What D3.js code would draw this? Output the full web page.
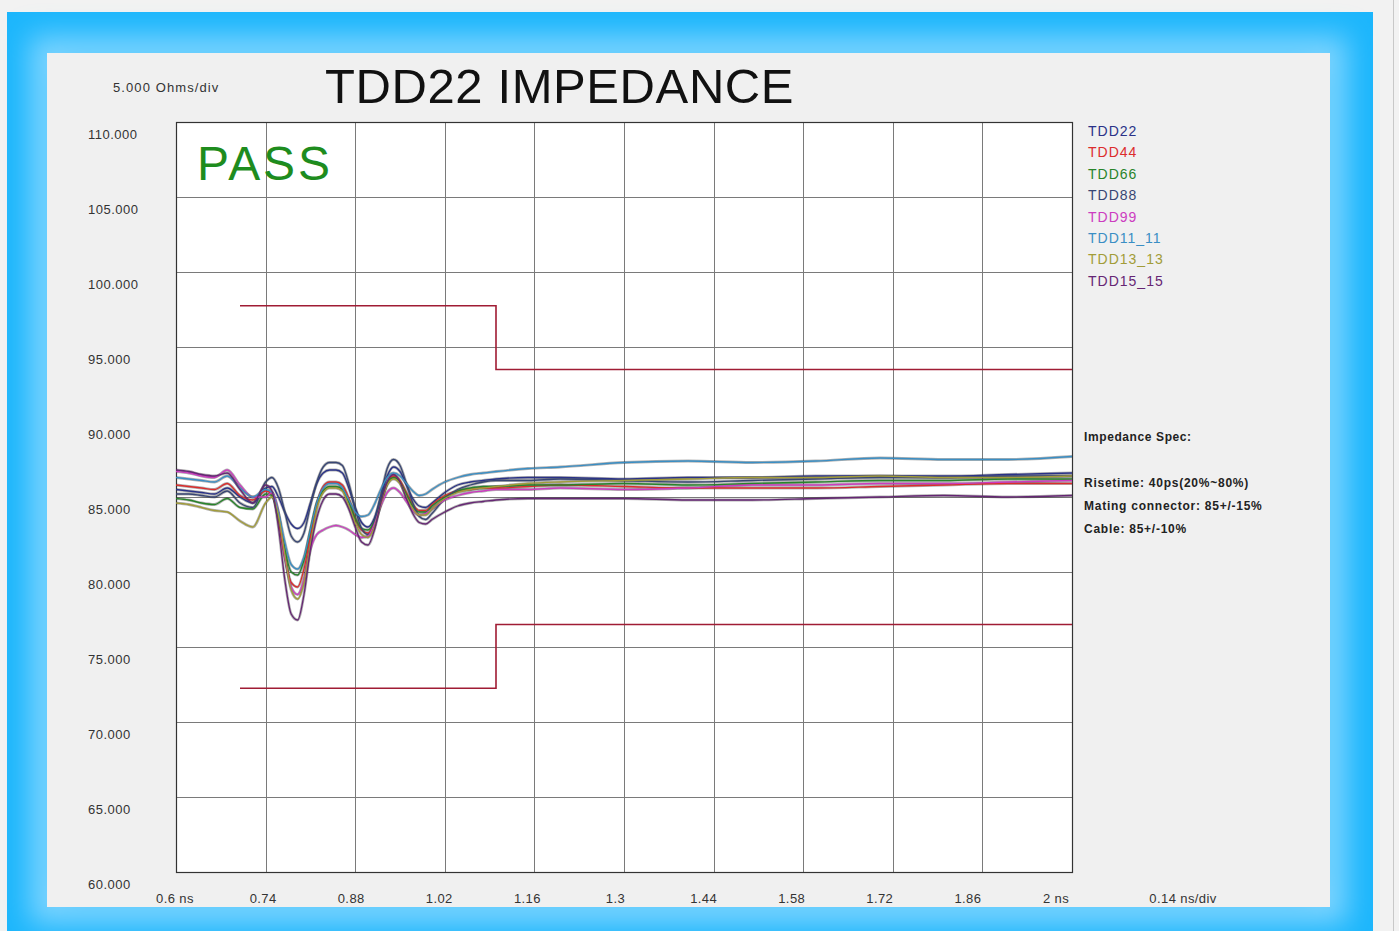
<!DOCTYPE html>
<html>
<head>
<meta charset="utf-8">
<script src="https://cdn.jsdelivr.net/npm/d3@7"></script>
<style>
  html, body { margin: 0; padding: 0; background: #f2f2f2; }
  svg { display: block; }
  text { font-family: "Liberation Sans", Arial, sans-serif; }
</style>
</head>
<body>
<svg id="chart" width="1399" height="931"></svg>
<script>
// ---------------- DATA ----------------
const times = [0.60,0.62,0.64,0.66,0.68,0.70,0.72,0.74,0.75,0.76,0.77,0.78,0.79,0.80,0.81,0.82,0.83,0.84,0.85,0.86,0.87,0.88,0.89,0.90,0.91,0.92,0.93,0.94,0.95,0.96,0.97,0.98,0.99,1.00,1.02,1.04,1.06,1.08,1.10,1.15,1.20,1.30,1.40,1.50,1.60,1.70,1.80,1.90,2.00];

const seriesNames = ["TDD22","TDD44","TDD66","TDD88","TDD99","TDD11_11","TDD13_13","TDD15_15"];
const seriesColors = ["#2a3288","#dc2c2c","#28842a","#384674","#cc3cc0","#3a8ec4","#a29c38","#662674"];

const tdd22 = [85.5,85.4,85.3,85.2,85.6,85.0,84.6,85.6,85.7,85.0,84.0,83.2,82.9,83.3,84.6,85.9,86.6,86.8,86.8,86.6,85.6,84.3,83.3,83.0,83.6,85.0,86.4,87.0,86.7,85.8,84.9,84.4,84.3,84.6,85.3,85.8,86.0,86.1,86.2,86.3,86.3,86.2,86.3,86.3,86.4,86.4,86.4,86.5,86.6];
const tdd44 = [85.8,85.7,85.6,85.5,85.9,85.1,84.8,85.4,85.2,83.5,81.0,79.3,79.0,80.2,82.4,84.5,85.7,86.0,86.0,85.8,84.9,83.6,82.8,82.6,83.3,84.6,85.9,86.4,86.1,85.3,84.5,84.1,84.1,84.5,85.1,85.4,85.5,85.6,85.6,85.7,85.8,85.7,85.6,85.6,85.6,85.7,85.8,85.9,85.9];
const tdd66 = [84.9,84.8,84.6,84.5,84.9,84.3,84.2,85.2,85.1,83.6,81.5,80.0,79.8,80.8,82.8,84.6,85.4,85.7,85.7,85.5,84.7,83.6,82.9,82.8,83.4,84.7,85.9,86.3,86.0,85.2,84.4,84.0,84.0,84.4,85.0,85.4,85.6,85.7,85.7,85.8,85.8,85.9,85.8,85.9,86.0,86.1,86.1,86.2,86.2];
const tdd88 = [85.2,85.2,85.1,85.0,85.4,84.6,84.3,86.0,86.3,85.6,84.0,82.4,82.0,82.6,84.4,86.0,87.0,87.3,87.3,87.1,85.9,84.2,82.9,82.5,83.3,85.1,86.9,87.5,87.1,85.9,84.6,83.7,83.5,83.9,84.9,85.5,85.8,86.0,86.1,86.1,86.2,86.1,86.0,86.1,86.2,86.3,86.3,86.4,86.4];
const tdd99 = [86.7,86.6,86.4,86.3,86.8,85.8,85.0,85.0,85.3,84.0,81.0,79.0,78.5,79.5,81.5,82.5,82.8,83.0,83.1,83.0,82.8,82.5,82.3,82.4,83.2,84.4,85.3,85.6,85.3,84.7,84.1,83.8,83.9,84.2,84.8,85.1,85.3,85.4,85.5,85.5,85.6,85.5,85.6,85.8,85.8,85.9,85.9,86.0,86.1];
const tdd11 = [86.3,86.2,86.1,86.0,86.4,85.6,85.0,85.5,85.3,84.0,82.0,80.5,80.2,81.0,82.8,84.6,85.6,85.9,85.9,85.6,84.8,84.0,83.7,83.8,84.5,85.5,86.3,86.6,86.4,85.9,85.4,85.1,85.2,85.5,86.0,86.3,86.5,86.6,86.7,86.9,87.0,87.3,87.4,87.3,87.4,87.6,87.5,87.5,87.7];
const tdd13 = [84.6,84.5,84.3,84.1,84.0,83.4,83.0,84.6,85.0,83.8,81.2,78.8,78.2,79.3,81.8,84.2,85.3,85.6,85.6,85.4,84.4,83.3,82.5,82.3,83.0,84.5,85.8,86.2,85.9,85.0,84.2,83.8,83.8,84.2,84.9,85.3,85.5,85.6,85.7,85.9,86.0,86.1,86.2,86.3,86.3,86.4,86.3,86.3,86.4];
const tdd15 = [86.8,86.7,86.5,86.4,86.6,85.5,84.6,85.8,85.4,83.0,79.5,77.2,76.8,78.5,81.5,83.6,84.8,85.2,85.2,85.0,84.2,83.0,82.0,81.8,82.8,84.6,86.0,86.5,86.0,84.9,83.9,83.3,83.2,83.5,84.0,84.4,84.6,84.7,84.8,84.9,84.9,84.9,84.8,84.8,84.9,85.0,85.1,85.0,85.1];
const seriesValues = [tdd22, tdd44, tdd66, tdd88, tdd99, tdd11, tdd13, tdd15];

// limit (spec) lines: time, ohms
const upperLimitT = [0.70, 1.10, 1.10, 2.00];
const upperLimitV = [97.75, 97.75, 93.5, 93.5];
const lowerLimitT = [0.70, 1.10, 1.10, 2.00];
const lowerLimitV = [72.25, 72.25, 76.5, 76.5];

const xTickValues = [0.6,0.74,0.88,1.02,1.16,1.3,1.44,1.58,1.72,1.86,2.0];
const xTickLabels = ["0.6 ns","0.74","0.88","1.02","1.16","1.3","1.44","1.58","1.72","1.86","2 ns"];
const yTickValues = [60,65,70,75,80,85,90,95,100,105,110];
const yTickLabels = ["60.000","65.000","70.000","75.000","80.000","85.000","90.000","95.000","100.000","105.000","110.000"];

const specLines = ["Risetime: 40ps(20%~80%)","Mating connector: 85+/-15%","Cable: 85+/-10%"];

// ---------------- DRAW ----------------
const svg = d3.select("#chart");
const defs = svg.append("defs");
const blur = defs.append("filter").attr("id","glow").attr("x","-10%").attr("y","-10%").attr("width","120%").attr("height","120%");
blur.append("feGaussianBlur").attr("stdDeviation", 14);

// blue frame
svg.append("rect").attr("x",7).attr("y",12).attr("width",1366).attr("height",919).attr("fill","#1cb6fc");
svg.append("rect").attr("x",47).attr("y",53).attr("width",1283).attr("height",854)
  .attr("fill","none").attr("stroke","#7dd4ff").attr("stroke-width",34).attr("filter","url(#glow)");
svg.append("rect").attr("x",47).attr("y",53).attr("width",1283).attr("height",854).attr("fill","#f0f0f0");
svg.append("line").attr("x1",1393.5).attr("x2",1393.5).attr("y1",0).attr("y2",931).attr("stroke","#c8c8c8");

const x = d3.scaleLinear().domain([0.6, 2.0]).range([176, 1072]);
const xLab = d3.scaleLinear().domain([0.6, 2.0]).range([175, 1056]);
const y = d3.scaleLinear().domain([60, 110]).range([872, 122]);

// plot background
svg.append("rect").attr("x", x(0.6)).attr("y", y(110)).attr("width", x(2)-x(0.6)).attr("height", y(60)-y(110)).attr("fill","#ffffff");

// grid
const g = svg.append("g");
g.selectAll("line.vg").data(xTickValues).enter().append("line")
  .attr("x1", d => Math.round(x(d))+0.5).attr("x2", d => Math.round(x(d))+0.5)
  .attr("y1", y(110)).attr("y2", y(60)).attr("stroke","#7a7a7a").attr("stroke-width",1);
g.selectAll("line.hg").data(yTickValues).enter().append("line")
  .attr("y1", d => Math.round(y(d))+0.5).attr("y2", d => Math.round(y(d))+0.5)
  .attr("x1", x(0.6)).attr("x2", x(2)).attr("stroke","#7a7a7a").attr("stroke-width",1);
svg.append("rect").attr("x", x(0.6)+0.5).attr("y", y(110)+0.5).attr("width", x(2)-x(0.6)).attr("height", y(60)-y(110))
  .attr("fill","none").attr("stroke","#333").attr("stroke-width",1.2);

// tick labels
svg.selectAll("text.yl").data(yTickValues).enter().append("text")
  .attr("x", 88).attr("y", d => y(d)+17)
  .attr("font-size", 13).attr("letter-spacing", 0.5).attr("fill","#333")
  .text((d,i) => yTickLabels[i]);
svg.selectAll("text.xl").data(xTickValues).enter().append("text")
  .attr("x", d => xLab(d)).attr("y", 903).attr("text-anchor","middle")
  .attr("font-size", 13).attr("letter-spacing", 0.4).attr("fill","#333")
  .text((d,i) => xTickLabels[i]);
svg.append("text").attr("x",1183).attr("y",903).attr("text-anchor","middle").attr("font-size",13).attr("letter-spacing",0.4).attr("fill","#333").text("0.14 ns/div");
svg.append("text").attr("x",113).attr("y",92).attr("font-size",13).attr("letter-spacing",1.1).attr("fill","#333").text("5.000 Ohms/div");

// title & pass
svg.append("text").attr("x",325).attr("y",103).attr("font-size",49).attr("letter-spacing",0.6).attr("fill","#111").text("TDD22 IMPEDANCE");
svg.append("text").attr("x",197).attr("y",180).attr("font-size",48).attr("letter-spacing",2.8).attr("fill","#1e8c1e").text("PASS");

// limit lines
const lineGen = d3.line().x(d => x(d[0])).y(d => y(d[1]));
[[upperLimitT, upperLimitV],[lowerLimitT, lowerLimitV]].forEach(([ts, vs]) => {
  svg.append("path").datum(ts.map((t,i) => [t, vs[i]])).attr("d", lineGen)
    .attr("fill","none").attr("stroke","#a01c34").attr("stroke-width",1.6);
});

// traces
const clip = defs.append("clipPath").attr("id","plotclip");
clip.append("rect").attr("x", x(0.6)).attr("y", y(110)).attr("width", x(2)-x(0.6)).attr("height", y(60)-y(110));
const tg = svg.append("g").attr("clip-path","url(#plotclip)");
const curve = d3.line().x(d => x(d[0])).y(d => y(d[1])).curve(d3.curveMonotoneX);
seriesValues.forEach((vals, i) => {
  tg.append("path").datum(times.map((t,k) => [t, vals[k]])).attr("d", curve)
    .attr("fill","none").attr("stroke", "#222").attr("stroke-opacity",0.35).attr("stroke-width",2.8);
});
seriesValues.forEach((vals, i) => {
  tg.append("path").datum(times.map((t,k) => [t, vals[k]])).attr("d", curve)
    .attr("fill","none").attr("stroke", seriesColors[i]).attr("stroke-width",1.3);
});

// legend
svg.selectAll("text.lg").data(seriesNames).enter().append("text")
  .attr("x",1088).attr("y",(d,i) => 136 + i*21.4)
  .attr("font-size",14).attr("letter-spacing",1)
  .attr("fill",(d,i) => seriesColors[i]).text(d => d);

// spec
svg.append("text").attr("x",1084).attr("y",441).attr("font-size",12).attr("font-weight","bold").attr("letter-spacing",0.6).attr("fill","#222").text("Impedance Spec:");
svg.selectAll("text.sp").data(specLines).enter().append("text")
  .attr("x",1084).attr("y",(d,i) => 487 + i*23)
  .attr("font-size",12).attr("font-weight","bold").attr("letter-spacing",0.75).attr("fill","#222").text(d => d);
</script>
</body>
</html>
